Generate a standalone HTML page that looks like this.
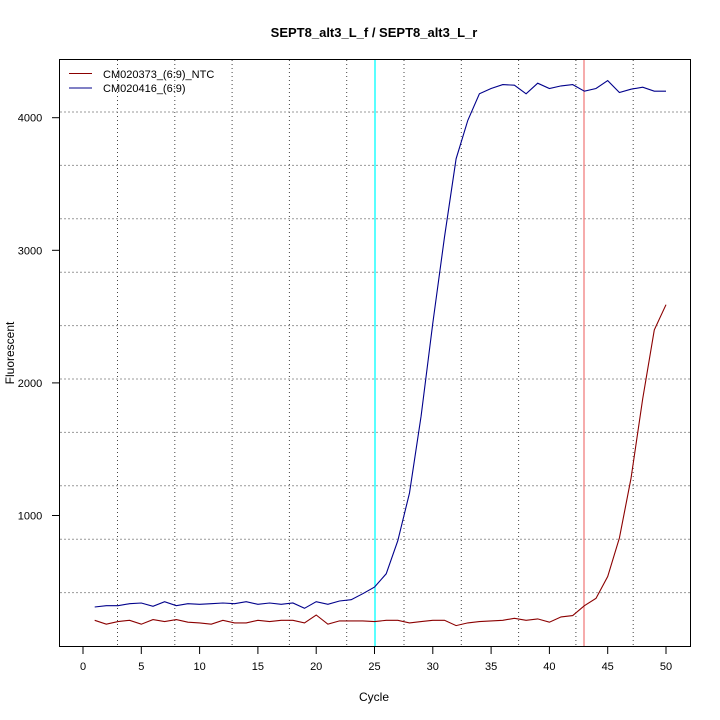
<!DOCTYPE html>
<html><head><meta charset="utf-8"><style>body{margin:0;background:#fff}svg{display:block}text{font-family:"Liberation Sans",sans-serif}</style></head>
<body>
<svg id="s" width="720" height="720" xmlns="http://www.w3.org/2000/svg">
<rect width="720" height="720" fill="#fff"/>
<g id="grid"></g>
<line x1="375" y1="59" x2="375" y2="647" stroke="#00ffff" stroke-width="1.3"/>
<line x1="584" y1="59" x2="584" y2="647" stroke="#f08080" stroke-width="1.3"/>
<path id="blue" fill="none" stroke="#00008b" stroke-width="1.1"/>
<path id="red" fill="none" stroke="#8b0000" stroke-width="1.1"/>
<rect x="59.5" y="59.5" width="631" height="587" fill="none" stroke="#000" stroke-width="1"/>
<g id="ticks" stroke="#000"></g>
<g id="labels" font-size="11" text-anchor="middle"></g>
<text x="374" y="37" font-size="13" font-weight="bold" text-anchor="middle">SEPT8_alt3_L_f / SEPT8_alt3_L_r</text>
<text x="374" y="701" font-size="12" text-anchor="middle">Cycle</text>
<text transform="translate(14,353) rotate(-90)" font-size="12" text-anchor="middle">Fluorescent</text>
<line x1="69" y1="73.5" x2="92" y2="73.5" stroke="#8b0000"/>
<line x1="69" y1="88" x2="92" y2="88" stroke="#00008b"/>
<text x="103" y="78" font-size="11">CM020373_(6:9)_NTC</text>
<text x="103" y="92" font-size="11">CM020416_(6:9)</text>
</svg>
<script>
var X=c=>83+11.66*c, Y=v=>648.1-v*0.1326;
var b=[310,320,320,335,340,315,350,320,335,330,335,340,335,350,330,340,330,340,300,350,330,355,365,410,460,560,810,1170,1750,2450,3100,3690,3980,4180,4220,4250,4245,4180,4260,4220,4240,4250,4200,4220,4280,4190,4215,4230,4200,4200];
var r=[210,180,200,210,180,215,200,215,195,190,180,210,190,190,210,200,210,210,190,250,180,205,205,205,200,210,210,190,200,210,210,170,190,200,205,210,225,210,220,195,235,245,320,375,540,830,1280,1880,2400,2590];
function p(a){return a.map((v,i)=>(i?'L':'M')+X(i+1).toFixed(1)+' '+Y(v).toFixed(1)).join(' ')}
document.getElementById('blue').setAttribute('d',p(b));
document.getElementById('red').setAttribute('d',p(r));
var g='',ns='';
for(var i=0;i<10;i++){var x=117.5+57.3*i;g+='<line x1="'+x+'" y1="60" x2="'+x+'" y2="646" stroke="#444" stroke-dasharray="1,3"/>';}
for(var i=0;i<10;i++){var y=112+53.4*i;g+='<line x1="60" y1="'+y+'" x2="690" y2="'+y+'" stroke="#999" stroke-dasharray="2,2"/>';}
document.getElementById('grid').innerHTML=g;
var t='',l='';
for(var c=0;c<=50;c+=5){var x=X(c);t+='<line x1="'+x+'" y1="647" x2="'+x+'" y2="654"/>';l+='<text x="'+x+'" y="670">'+c+'</text>';}
for(var v=1000;v<=4000;v+=1000){var y=Y(v);t+='<line x1="52" y1="'+y+'" x2="59" y2="'+y+'"/>';l+='<text x="30" y="'+(y+4)+'">'+v+'</text>';}
document.getElementById('ticks').innerHTML=t;
document.getElementById('labels').innerHTML=l;
</script>
</body></html>
